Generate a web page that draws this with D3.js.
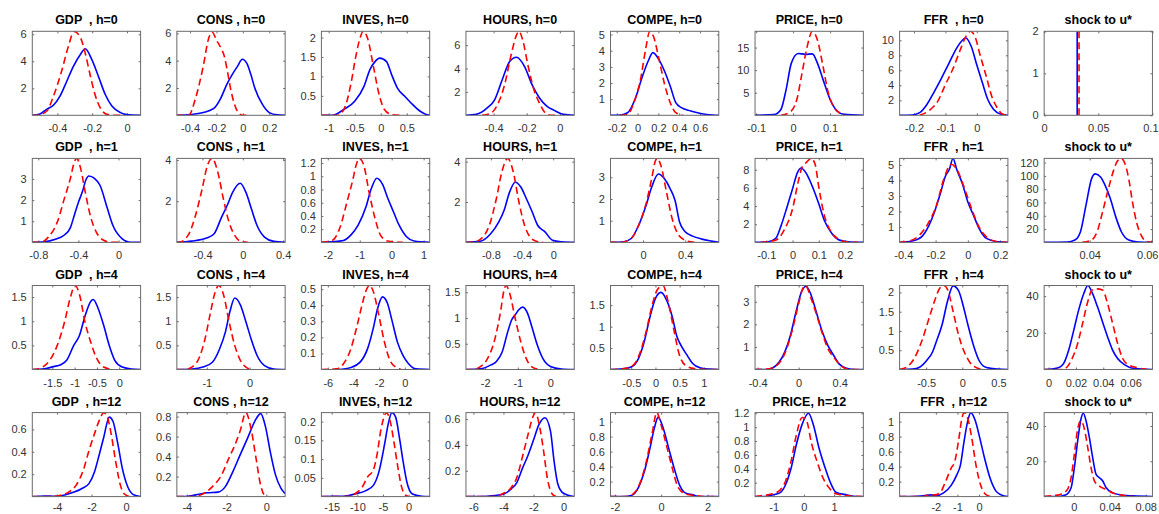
<!DOCTYPE html>
<html><head><meta charset="utf-8">
<script src="https://cdn.jsdelivr.net/npm/d3@7"></script>
<style>body{margin:0;background:#fff}svg{display:block}</style>
</head><body><svg id="c" width="1159" height="514"></svg>
<script>
// ---------- data ----------
const varNames = ["GDP  ","CONS ","INVES","HOURS","COMPE","PRICE","FFR  "];
const horizons = [0,1,4,12];
const shockTitle = "shock to u*";

const xDomains = [
 [[-0.544,0.078],[-0.5,0.32],[-1.14,0.94],[-0.567,0.087],[-0.26,0.78],[-0.103,0.19],[-0.246,0.099],[0,0.1]],
 [[-0.86,0.22],[-0.655,0.42],[-2.2,1.19],[-1.12,0.27],[-0.31,0.72],[-0.143,0.27],[-0.423,0.248],[0.0252,0.0604]],
 [[-1.95,0.48],[-1.7,0.83],[-6.5,1.94],[-2.59,0.73],[-0.93,1.31],[-0.425,0.63],[-0.867,0.63],[-0.0033,0.076]],
 [[-5.44,0.85],[-4.5,0.95],[-17,4.1],[-6.5,0.72],[-2.19,2.49],[-1.62,1.97],[-3.68,1.34],[-0.033,0.0875]]
];
const xTicks = [
 [[-0.4,-0.2,0],[-0.4,-0.2,0,0.2],[-1,-0.5,0,0.5],[-0.4,-0.2,0],[-0.2,0,0.2,0.4,0.6],[-0.1,0,0.1],[-0.2,-0.1,0],[0,0.05,0.1]],
 [[-0.8,-0.4,0],[-0.4,0,0.4],[-2,-1,0,1],[-0.8,-0.4,0],[0,0.4],[-0.1,0,0.1,0.2],[-0.4,-0.2,0,0.2],[0.04,0.06]],
 [[-1.5,-1,-0.5,0],[-1,0],[-6,-4,-2,0],[-2,-1,0],[-0.5,0,0.5,1],[-0.4,0,0.4],[-0.5,0,0.5],[0,0.02,0.04,0.06]],
 [[-4,-2,0],[-4,-2,0],[-15,-10,-5,0],[-6,-4,-2,0],[-2,0,2],[-1,0,1],[-2,-1,0],[0,0.04,0.08]]
];
const yDomains = [
 [[0,6.22],[0,6.15],[0,2.16],[0,7.18],[0,5.2],[0,18.6],[0,11.2],[0,2]],
 [[0,3.97],[0,4.08],[0,1.27],[0,4.16],[0,3.87],[0,9.24],[0,5.42],[0,126.3]],
 [[0,1.74],[0,1.74],[0,0.523],[0,1.63],[0,1.96],[0,3.72],[0,2.18],[0,45.8]],
 [[0,0.75],[0,0.84],[0,0.224],[0,0.65],[0,1.12],[0,1.21],[0,1.12],[0,47.6]]
];
const yTicks = [
 [[2,4,6],[2,4,6],[0.5,1,1.5,2],[2,4,6],[1,2,3,4,5],[5,10,15],[2,4,6,8,10],[0,1,2]],
 [[1,2,3],[2,4],[0.2,0.4,0.6,0.8,1,1.2],[2,4],[1,2,3],[2,4,6,8],[1,2,3,4,5],[20,40,60,80,100,120]],
 [[0.5,1,1.5],[0.5,1,1.5],[0.1,0.2,0.3,0.4,0.5],[0.5,1,1.5],[0.5,1,1.5],[1,2,3],[0.5,1,1.5,2],[20,40]],
 [[0.2,0.4,0.6],[0.2,0.4,0.6,0.8],[0.05,0.1,0.15,0.2],[0.2,0.4,0.6],[0.2,0.4,0.6,0.8,1],[0.2,0.4,0.6,0.8,1,1.2],[0.2,0.4,0.6,0.8,1],[20,40]]
];

// blue solid densities, horizon 0
const blueH0 = [
 [[-0.544,0],[-0.5,0.1],[-0.462,0.44],[-0.423,0.74],[-0.385,1.42],[-0.346,2.52],[-0.308,3.63],[-0.269,4.49],[-0.24,4.93],[-0.202,4.12],[-0.163,2.84],[-0.125,1.54],[-0.087,0.69],[-0.038,0.2],[0,0.05],[0.078,0]],
 [[-0.5,0],[-0.4,0.05],[-0.3,0.2],[-0.22,0.5],[-0.17,1.2],[-0.12,2.3],[-0.08,3.0],[-0.04,3.6],[-0.005,4.1],[0.03,3.8],[0.06,3.0],[0.09,2.0],[0.148,0.8],[0.2,0.2],[0.26,0.03],[0.32,0]],
 [[-1.14,0],[-0.93,0],[-0.71,0.15],[-0.5,0.36],[-0.32,0.75],[-0.21,1.17],[-0.11,1.38],[-0.02,1.47],[0.11,1.38],[0.21,1.04],[0.32,0.7],[0.46,0.49],[0.61,0.28],[0.75,0.11],[0.86,0.03],[0.94,0]],
 [[-0.567,0],[-0.505,0.08],[-0.437,0.65],[-0.393,1.35],[-0.348,3.04],[-0.303,4.6],[-0.262,4.96],[-0.213,4.17],[-0.168,2.62],[-0.124,1.5],[-0.079,0.79],[-0.034,0.42],[0.022,0.08],[0.087,0]],
 [[-0.26,0],[-0.167,0.02],[-0.096,0.16],[-0.025,0.98],[0.046,2.4],[0.1,3.33],[0.147,3.88],[0.207,3.43],[0.26,2.71],[0.314,1.8],[0.367,0.78],[0.421,0.47],[0.51,0.27],[0.617,0.1],[0.724,0.02],[0.78,0]],
 [[-0.103,0],[-0.052,0.15],[-0.033,1.3],[-0.019,5.7],[-0.005,11.5],[0.014,13.7],[0.033,13.5],[0.052,13.6],[0.066,11.5],[0.081,7.9],[0.1,3.5],[0.119,0.95],[0.138,0.2],[0.19,0]],
 [[-0.246,0],[-0.206,0.04],[-0.182,0.35],[-0.159,1.45],[-0.135,3.2],[-0.112,5.0],[-0.088,7.0],[-0.065,8.9],[-0.035,10.3],[-0.018,9.2],[0,6.7],[0.018,4.3],[0.035,2.1],[0.053,0.8],[0.077,0.13],[0.099,0]],
 [[0.0305,0],[0.0305,2]]
];
// red dashed densities, horizon 0
const redH0 = [
 [[-0.544,0],[-0.519,0],[-0.462,0.3],[-0.423,1.4],[-0.375,3.3],[-0.337,5.1],[-0.304,6.2],[-0.269,5.8],[-0.24,4.6],[-0.212,3.0],[-0.183,1.5],[-0.154,0.56],[-0.115,0.07],[-0.067,0],[-0.02,0]],
 [[-0.5,0],[-0.41,0],[-0.36,1.2],[-0.3,3.6],[-0.26,5.6],[-0.233,6.1],[-0.2,5.5],[-0.165,4.9],[-0.14,4.3],[-0.115,3.1],[-0.09,1.8],[-0.06,0.7],[-0.03,0.15],[0,0],[0.05,0]],
 [[-1.14,0],[-0.82,0],[-0.68,0.24],[-0.57,0.83],[-0.48,1.51],[-0.39,2.02],[-0.34,2.16],[-0.25,1.97],[-0.14,1.25],[-0.04,0.58],[0.07,0.15],[0.21,0.02],[0.36,0]],
 [[-0.47,0],[-0.42,0.15],[-0.381,0.79],[-0.336,2.48],[-0.292,5.3],[-0.262,6.85],[-0.247,7.18],[-0.224,6.42],[-0.191,4.17],[-0.157,2.2],[-0.124,1.07],[-0.09,0.23],[-0.056,0],[-0.03,0]],
 [[-0.167,0],[-0.096,0.06],[-0.025,0.98],[0.028,2.2],[0.075,4.0],[0.118,5.2],[0.154,4.86],[0.207,3.43],[0.26,1.9],[0.314,0.78],[0.367,0.16],[0.438,0]],
 [[-0.033,0],[-0.01,0.6],[0.01,3.5],[0.024,9.3],[0.038,15.2],[0.052,18.6],[0.066,16.6],[0.081,10.8],[0.095,5],[0.109,2],[0.124,0.6],[0.138,0]],
 [[-0.182,0],[-0.147,0.8],[-0.124,1.9],[-0.1,4.1],[-0.077,6.1],[-0.053,8.7],[-0.035,10.5],[-0.02,11.2],[-0.006,10.5],[0.012,7.8],[0.03,5.2],[0.047,2.6],[0.065,1.0],[0.083,0.13],[0.099,0]],
 [[0.0322,0],[0.0322,2]]
];
const blueH1 = [
 [[-0.86,0],[-0.74,0.03],[-0.63,0.15],[-0.54,0.35],[-0.48,0.7],[-0.44,1.3],[-0.4,1.9],[-0.36,2.4],[-0.326,2.95],[-0.296,3.14],[-0.24,3.03],[-0.185,2.7],[-0.111,1.6],[-0.056,0.8],[0.037,0.17],[0.1,0.02],[0.22,0]],
 [[-0.655,0],[-0.507,0.06],[-0.36,0.21],[-0.285,0.42],[-0.211,1.23],[-0.156,1.79],[-0.1,2.44],[-0.026,2.87],[0.03,2.44],[0.085,1.63],[0.141,0.82],[0.215,0.26],[0.307,0.05],[0.42,0]],
 [[-2.2,0],[-1.86,0.01],[-1.51,0.03],[-1.28,0.11],[-1.05,0.26],[-0.81,0.53],[-0.64,0.81],[-0.465,0.97],[-0.29,0.88],[-0.116,0.66],[0.058,0.46],[0.233,0.26],[0.465,0.085],[0.7,0.02],[1.19,0]],
 [[-1.12,0],[-0.94,0.05],[-0.8,0.44],[-0.7,1.0],[-0.63,1.59],[-0.56,2.49],[-0.488,2.98],[-0.416,2.74],[-0.344,2.16],[-0.273,1.54],[-0.2,0.85],[-0.105,0.52],[-0.01,0.11],[0.11,0.03],[0.27,0]],
 [[-0.31,0],[-0.184,0.03],[-0.113,0.18],[-0.042,0.79],[0.028,1.7],[0.081,2.54],[0.145,3.15],[0.205,2.92],[0.258,2.47],[0.304,1.93],[0.347,0.94],[0.4,0.49],[0.47,0.29],[0.559,0.15],[0.648,0.06],[0.72,0]],
 [[-0.143,0],[-0.093,0.07],[-0.064,0.44],[-0.043,1.9],[-0.021,3.9],[0,5.9],[0.019,7.7],[0.033,8.18],[0.057,7.35],[0.079,5.9],[0.1,4.25],[0.121,2.44],[0.15,0.98],[0.179,0.25],[0.221,0.04],[0.27,0]],
 [[-0.423,0],[-0.345,0.09],[-0.287,0.36],[-0.241,1.1],[-0.207,1.96],[-0.172,3.1],[-0.138,4.3],[-0.115,4.7],[-0.092,5.42],[-0.069,4.7],[-0.034,3.79],[0,2.6],[0.034,1.77],[0.069,0.91],[0.115,0.26],[0.184,0.04],[0.248,0]],
 [[0.0252,0],[0.0327,0.5],[0.0352,3.5],[0.037,16],[0.0388,56],[0.0406,95.5],[0.0418,103],[0.0436,98],[0.0448,88],[0.0467,66],[0.0485,38],[0.0503,16],[0.0527,3.5],[0.0558,0.5],[0.0604,0]]
];
const redH1 = [
 [[-0.86,0],[-0.778,0],[-0.7,0.25],[-0.61,0.97],[-0.54,2.08],[-0.48,3.03],[-0.444,3.75],[-0.419,3.97],[-0.378,3.5],[-0.333,2.4],[-0.278,1.2],[-0.222,0.49],[-0.148,0.1],[-0.074,0],[0,0]],
 [[-0.655,0],[-0.637,0],[-0.544,0.34],[-0.47,1.31],[-0.404,2.6],[-0.352,3.73],[-0.304,4.08],[-0.248,3.4],[-0.193,2.11],[-0.137,0.98],[-0.081,0.34],[-0.026,0.06],[0.048,0]],
 [[-2.2,0],[-1.86,0.03],[-1.63,0.21],[-1.4,0.61],[-1.22,0.94],[-1.1,1.19],[-1.01,1.27],[-0.87,1.16],[-0.7,0.74],[-0.52,0.36],[-0.35,0.11],[-0.12,0.02],[0.35,0]],
 [[-1.12,0],[-1.04,0],[-0.92,0.2],[-0.82,0.85],[-0.73,2.16],[-0.66,3.48],[-0.584,4.16],[-0.512,3.48],[-0.44,2.0],[-0.368,0.85],[-0.3,0.28],[-0.225,0.07],[-0.13,0]],
 [[-0.31,0],[-0.22,0],[-0.113,0.18],[-0.042,0.79],[0.028,1.78],[0.081,2.92],[0.117,3.76],[0.135,3.87],[0.17,3.53],[0.223,2.31],[0.276,1.1],[0.329,0.41],[0.4,0.1],[0.488,0]],
 [[-0.121,0],[-0.064,0.25],[-0.029,1.53],[0,3.7],[0.021,6.6],[0.036,8.25],[0.053,8.8],[0.071,9.24],[0.086,8.6],[0.1,6.1],[0.121,3.0],[0.143,1.35],[0.171,0.44],[0.207,0.07],[0.25,0]],
 [[-0.423,0],[-0.356,0.11],[-0.3,0.47],[-0.241,1.32],[-0.195,2.38],[-0.149,4.09],[-0.103,5.04],[-0.069,4.72],[-0.023,3.55],[0.023,2.17],[0.069,1.0],[0.115,0.36],[0.184,0.04],[0.248,0]],
 [[0.0376,0],[0.0406,3.5],[0.0424,16],[0.0442,46],[0.0461,81],[0.0479,110],[0.0491,123],[0.0503,126],[0.0515,118],[0.0527,95.5],[0.0539,61],[0.0552,31],[0.057,8.5],[0.0588,1],[0.0604,0]]
];
const blueH4 = [
 [[-1.95,0],[-1.68,0.014],[-1.475,0.06],[-1.31,0.1],[-1.18,0.19],[-1.02,0.5],[-0.89,0.71],[-0.77,1.1],[-0.64,1.41],[-0.583,1.45],[-0.475,1.27],[-0.35,0.92],[-0.225,0.5],[-0.1,0.19],[0.067,0.05],[0.275,0.01],[0.48,0]],
 [[-1.7,0],[-1.35,0.01],[-1.09,0.05],[-0.87,0.15],[-0.7,0.43],[-0.565,0.78],[-0.46,1.2],[-0.348,1.48],[-0.217,1.34],[-0.087,0.99],[0.043,0.61],[0.174,0.29],[0.348,0.08],[0.565,0.01],[0.83,0]],
 [[-5.2,0],[-4.2,0.013],[-3.48,0.046],[-2.9,0.13],[-2.46,0.256],[-2.12,0.38],[-1.74,0.452],[-1.36,0.414],[-1.01,0.309],[-0.58,0.172],[-0.145,0.088],[0.29,0.036],[0.87,0.004],[1.94,0]],
 [[-2.59,0],[-2.16,0.013],[-1.82,0.09],[-1.65,0.16],[-1.48,0.34],[-1.31,0.73],[-1.19,0.96],[-1.08,1.06],[-0.97,1.16],[-0.85,1.21],[-0.7,1.09],[-0.57,0.83],[-0.4,0.47],[-0.23,0.21],[0,0.06],[0.34,0.01],[0.73,0]],
 [[-0.93,0],[-0.73,0.01],[-0.5,0.06],[-0.35,0.26],[-0.23,0.66],[-0.115,1.22],[0,1.66],[0.115,1.8],[0.23,1.62],[0.35,1.22],[0.44,0.78],[0.54,0.54],[0.65,0.34],[0.77,0.14],[0.92,0.04],[1.12,0.01],[1.31,0]],
 [[-0.425,0],[-0.335,0],[-0.26,0.06],[-0.19,0.33],[-0.135,0.78],[-0.08,1.52],[-0.025,2.57],[0.029,3.46],[0.073,3.69],[0.12,3.31],[0.175,2.49],[0.23,1.67],[0.284,1.07],[0.34,0.63],[0.393,0.25],[0.465,0.06],[0.556,0],[0.63,0]],
 [[-0.867,0],[-0.69,0.01],[-0.59,0.06],[-0.49,0.24],[-0.41,0.46],[-0.36,0.72],[-0.28,1.16],[-0.205,1.77],[-0.128,2.17],[-0.051,2.04],[0.026,1.55],[0.077,1.16],[0.154,0.63],[0.23,0.24],[0.333,0.05],[0.49,0.01],[0.63,0]],
 [[-0.0033,0],[0.0036,0.37],[0.0085,1.46],[0.011,3.3],[0.0147,10.6],[0.0184,21.5],[0.022,32.5],[0.0258,41.6],[0.0287,45.8],[0.032,41.6],[0.0357,34.3],[0.0394,26.1],[0.0431,17.9],[0.0468,10.6],[0.0505,6.0],[0.0554,2.7],[0.0628,0.55],[0.076,0]]
];
const redH4 = [
 [[-1.95,0],[-1.93,0],[-1.725,0.05],[-1.56,0.19],[-1.39,0.5],[-1.225,0.99],[-1.1,1.48],[-0.99,1.74],[-0.89,1.55],[-0.77,0.99],[-0.64,0.57],[-0.52,0.26],[-0.35,0.05],[-0.14,0]],
 [[-1.7,0],[-1.52,0],[-1.35,0.05],[-1.17,0.26],[-1.04,0.64],[-0.91,1.2],[-0.81,1.59],[-0.72,1.74],[-0.61,1.55],[-0.48,0.99],[-0.348,0.5],[-0.217,0.19],[-0.087,0.05],[0.043,0]],
 [[-6.5,0],[-5.36,0.004],[-4.78,0.036],[-4.2,0.13],[-3.77,0.256],[-3.33,0.403],[-3.04,0.487],[-2.75,0.523],[-2.46,0.487],[-2.03,0.34],[-1.59,0.172],[-1.16,0.057],[-0.72,0.015],[-0.29,0]],
 [[-2.59,0],[-2.39,0],[-2.16,0.05],[-1.93,0.21],[-1.7,0.6],[-1.53,1.12],[-1.42,1.55],[-1.36,1.63],[-1.25,1.48],[-1.08,0.99],[-0.91,0.54],[-0.74,0.21],[-0.57,0.05],[-0.34,0]],
 [[-0.93,0],[-0.65,0.02],[-0.46,0.1],[-0.31,0.42],[-0.19,0.9],[-0.077,1.46],[0.038,1.86],[0.154,1.96],[0.27,1.54],[0.385,0.9],[0.485,0.38],[0.615,0.1],[0.81,0.02],[1.12,0],[1.31,0]],
 [[-0.425,0],[-0.316,0.015],[-0.244,0.1],[-0.17,0.4],[-0.116,0.93],[-0.062,1.75],[-0.007,2.79],[0.036,3.54],[0.065,3.72],[0.12,3.16],[0.175,2.42],[0.23,1.6],[0.284,0.93],[0.34,0.55],[0.393,0.25],[0.465,0.03],[0.556,0],[0.63,0]],
 [[-0.867,0],[-0.77,0.06],[-0.667,0.28],[-0.564,0.72],[-0.46,1.33],[-0.385,1.77],[-0.308,2.12],[-0.256,2.18],[-0.205,2.08],[-0.128,1.51],[-0.051,0.89],[0.026,0.46],[0.103,0.19],[0.18,0.06],[0.28,0]],
 [[-0.0033,0],[0.0099,0],[0.0136,1.46],[0.0172,6.0],[0.0209,13.3],[0.0246,24.3],[0.0283,36.1],[0.0316,43.1],[0.0344,44],[0.0394,43.4],[0.0431,36.1],[0.0468,25.2],[0.0505,14.2],[0.0542,6.0],[0.058,2.7],[0.0654,0.9],[0.0728,0]]
];
const blueH12 = [
 [[-5.44,0],[-4.73,0.006],[-4.09,0.003],[-3.55,0.015],[-3.01,0.04],[-2.58,0.07],[-2.15,0.116],[-1.83,0.22],[-1.55,0.376],[-1.29,0.53],[-0.97,0.71],[-0.75,0.67],[-0.47,0.47],[-0.215,0.254],[0.107,0.086],[0.43,0.018],[0.85,0]],
 [[-4.5,0],[-4.11,0],[-3.55,0.017],[-2.99,0.038],[-2.43,0.045],[-2.06,0.1],[-1.68,0.25],[-1.31,0.42],[-0.93,0.59],[-0.56,0.76],[-0.28,0.83],[-0.04,0.7],[0.19,0.46],[0.46,0.22],[0.75,0.08],[0.95,0.03]],
 [[-17,0],[-14.9,0.001],[-12.7,0.001],[-10.5,0.007],[-8.33,0.016],[-6.88,0.03],[-5.8,0.066],[-4.7,0.139],[-3.98,0.194],[-3.26,0.224],[-2.53,0.212],[-1.8,0.157],[-1.08,0.094],[-0.35,0.039],[0.73,0.007],[2.55,0.001],[4.1,0]],
 [[-6.5,0],[-5.58,0],[-4.6,0.008],[-3.97,0.02],[-3.48,0.06],[-3.1,0.11],[-2.73,0.22],[-2.36,0.32],[-1.99,0.44],[-1.62,0.56],[-1.24,0.61],[-0.87,0.51],[-0.62,0.27],[-0.38,0.1],[0,0.026],[0.72,0]],
 [[-2.19,0],[-1.61,0],[-1.29,0.014],[-0.97,0.13],[-0.73,0.33],[-0.48,0.65],[-0.29,0.92],[-0.13,1.06],[0.08,0.92],[0.32,0.65],[0.56,0.38],[0.8,0.15],[1.04,0.05],[1.37,0.023],[1.61,0],[2.49,0]],
 [[-1.62,0],[-1.3,0],[-1.05,0.024],[-0.8,0.054],[-0.62,0.16],[-0.43,0.4],[-0.25,0.75],[-0.06,1.04],[0.15,1.2],[0.31,1.04],[0.5,0.7],[0.69,0.43],[0.87,0.21],[1.06,0.063],[1.43,0.024],[1.74,0],[1.97,0]],
 [[-3.68,0],[-3.1,0],[-2.58,0.01],[-2.24,0.023],[-1.98,0.014],[-1.64,0.05],[-1.29,0.15],[-1.03,0.29],[-0.86,0.42],[-0.69,0.74],[-0.52,1.01],[-0.38,1.12],[-0.17,1.01],[0.03,0.79],[0.26,0.51],[0.52,0.24],[0.77,0.08],[1.03,0.023],[1.34,0]],
 [[-0.033,0],[-0.02,0],[-0.0087,1.1],[-0.003,5],[0.0006,16.4],[0.0043,31.6],[0.008,44],[0.0106,47.2],[0.0136,43],[0.0173,33.5],[0.021,22.1],[0.0248,12.6],[0.0285,10.7],[0.0322,8.8],[0.036,5],[0.0434,2.1],[0.0546,0.76],[0.0658,0.4],[0.0875,0]]
];
const redH12 = [
 [[-5.44,0],[-4.4,0],[-3.87,0.01],[-3.33,0.04],[-2.9,0.1],[-2.47,0.24],[-2.15,0.41],[-1.83,0.56],[-1.55,0.68],[-1.29,0.75],[-1.08,0.71],[-0.86,0.56],[-0.6,0.315],[-0.32,0.1],[-0.11,0.025],[0.22,0]],
 [[-4.5,0],[-3.74,0],[-3.18,0.027],[-2.71,0.1],[-2.24,0.22],[-1.87,0.39],[-1.59,0.51],[-1.31,0.66],[-1.03,0.84],[-0.75,0.66],[-0.52,0.39],[-0.28,0.11],[-0.1,0.017],[0.09,0]],
 [[-17,0],[-12,0],[-10.5,0.007],[-9.06,0.025],[-7.98,0.053],[-6.88,0.071],[-6.16,0.112],[-5.45,0.175],[-4.7,0.216],[-4.35,0.224],[-3.63,0.203],[-2.9,0.148],[-2.18,0.085],[-1.45,0.03],[-0.73,0.005],[0,0]],
 [[-6.5,0],[-4.85,0],[-4.1,0.02],[-3.48,0.07],[-3.1,0.15],[-2.73,0.31],[-2.36,0.48],[-2.06,0.61],[-1.87,0.65],[-1.57,0.53],[-1.32,0.35],[-1.07,0.14],[-0.75,0.02],[-0.5,0]],
 [[-2.19,0],[-1.45,0],[-1.13,0.06],[-0.89,0.2],[-0.64,0.47],[-0.4,0.83],[-0.19,1.12],[0,0.95],[0.24,0.67],[0.48,0.38],[0.72,0.13],[1.04,0.036],[1.45,0.014],[1.93,0],[2.3,0]],
 [[-1.62,0],[-1.37,0.015],[-1.05,0.04],[-0.8,0.09],[-0.62,0.21],[-0.43,0.5],[-0.25,0.89],[-0.06,1.14],[0.09,1.09],[0.25,0.77],[0.44,0.5],[0.62,0.28],[0.81,0.14],[1.06,0.04],[1.43,0.015],[1.93,0]],
 [[-3.68,0],[-2.58,0],[-2.32,0.023],[-2.06,0.023],[-1.81,0.05],[-1.55,0.2],[-1.29,0.38],[-1.12,0.47],[-0.95,0.74],[-0.78,1.06],[-0.69,1.12],[-0.52,1.04],[-0.34,0.79],[-0.14,0.42],[0.08,0.15],[0.34,0.023],[0.6,0]],
 [[-0.033,0],[-0.0237,0.57],[-0.016,1.1],[-0.0087,3.0],[-0.003,10.7],[0.0006,24],[0.0043,38.3],[0.008,43],[0.0118,38.3],[0.0155,27.8],[0.0192,16.4],[0.023,8.8],[0.0285,5.9],[0.036,4.0],[0.0434,2.1],[0.0546,0.76],[0.0658,0]]
];

// ---------- drawing ----------
const blueRows = [blueH0, blueH1, blueH4, blueH12];
const redRows = [redH0, redH1, redH4, redH12];
const L0 = 32.3, COL = 144.55, T0 = 31.3, ROW = 127.1, W = 108.3, H = 84;
const AX = "#6a6a6a", TXT = "#333";
const FONT = "'Liberation Sans', Arial, Helvetica, sans-serif";
const PAGE_W = 1159;

const svg = d3.select("#c");
svg.append("rect").attr("width",PAGE_W).attr("height",514).attr("fill","#fff");

for (let r = 0; r < 4; r++) {
  for (let c = 0; c < 8; c++) {
    const x0 = L0 + c * COL, y0 = T0 + r * ROW;
    const g = svg.append("g").attr("transform", `translate(${x0},${y0})`);
    const xs = d3.scaleLinear().domain(xDomains[r][c]).range([0, W]);
    const ys = d3.scaleLinear().domain(yDomains[r][c]).range([H, 0]);
    const cid = `clip${r}_${c}`;
    g.append("clipPath").attr("id", cid).append("rect")
      .attr("x", 0).attr("y", 0).attr("width", W).attr("height", H);

    const title = c < 7 ? `${varNames[c]}, h=${horizons[r]}` : shockTitle;
    g.append("text").attr("x", W / 2).attr("y", -7)
      .attr("text-anchor", "middle").attr("font-family", FONT)
      .attr("font-weight", "bold").attr("font-size", 12.5).attr("fill", "#000")
      .style("white-space", "pre").text(title);

    const fmt = d => String(d);
    const styleAxis = (sel, hideText) => {
      sel.select(".domain").remove();
      sel.selectAll(".tick line").attr("stroke", AX);
      sel.selectAll(".tick text").attr("fill", TXT)
        .attr("font-family", FONT).attr("font-size", 11);
      if (hideText) sel.selectAll(".tick text").remove();
    };
    const pad = r === 3 ? 6.8 : 9.2;
    const bottomAxis = g.append("g").attr("transform", `translate(0,${H})`)
      .call(d3.axisBottom(xs).tickValues(xTicks[r][c]).tickSize(-2).tickPadding(pad).tickFormat(fmt))
      .call(s => styleAxis(s, false));
    // keep labels at the right page edge fully visible
    bottomAxis.selectAll(".tick text").each(function() {
      const b = this.getBoundingClientRect();
      const over = b.right - (PAGE_W - 0.5);
      if (over > 0) d3.select(this).attr("dx", -over);
    });
    g.append("g")
      .call(d3.axisTop(xs).tickValues(xTicks[r][c]).tickSize(-2).tickFormat(""))
      .call(s => styleAxis(s, true));
    g.append("g")
      .call(d3.axisLeft(ys).tickValues(yTicks[r][c]).tickSize(-2).tickPadding(5.6).tickFormat(fmt))
      .call(s => styleAxis(s, false));
    g.append("g").attr("transform", `translate(${W},0)`)
      .call(d3.axisRight(ys).tickValues(yTicks[r][c]).tickSize(-2).tickFormat(""))
      .call(s => styleAxis(s, true));

    const mk = pts => d3.line().x(d => xs(d[0])).y(d => ys(d[1]))
      .curve(pts.length > 2 ? d3.curveMonotoneX : d3.curveLinear)(pts);
    const plot = g.append("g").attr("clip-path", `url(#${cid})`);
    plot.append("path").attr("d", mk(blueRows[r][c])).attr("fill", "none")
      .attr("stroke", "#0000ff").attr("stroke-width", 1.6).attr("stroke-linejoin", "round");
    plot.append("path").attr("d", mk(redRows[r][c])).attr("fill", "none")
      .attr("stroke", "#ff0000").attr("stroke-width", 1.6).attr("stroke-dasharray", "7,4");

    g.append("rect").attr("x", 0).attr("y", 0).attr("width", W).attr("height", H)
      .attr("fill", "none").attr("stroke", AX).attr("stroke-width", 1);
  }
}
</script></body></html>
